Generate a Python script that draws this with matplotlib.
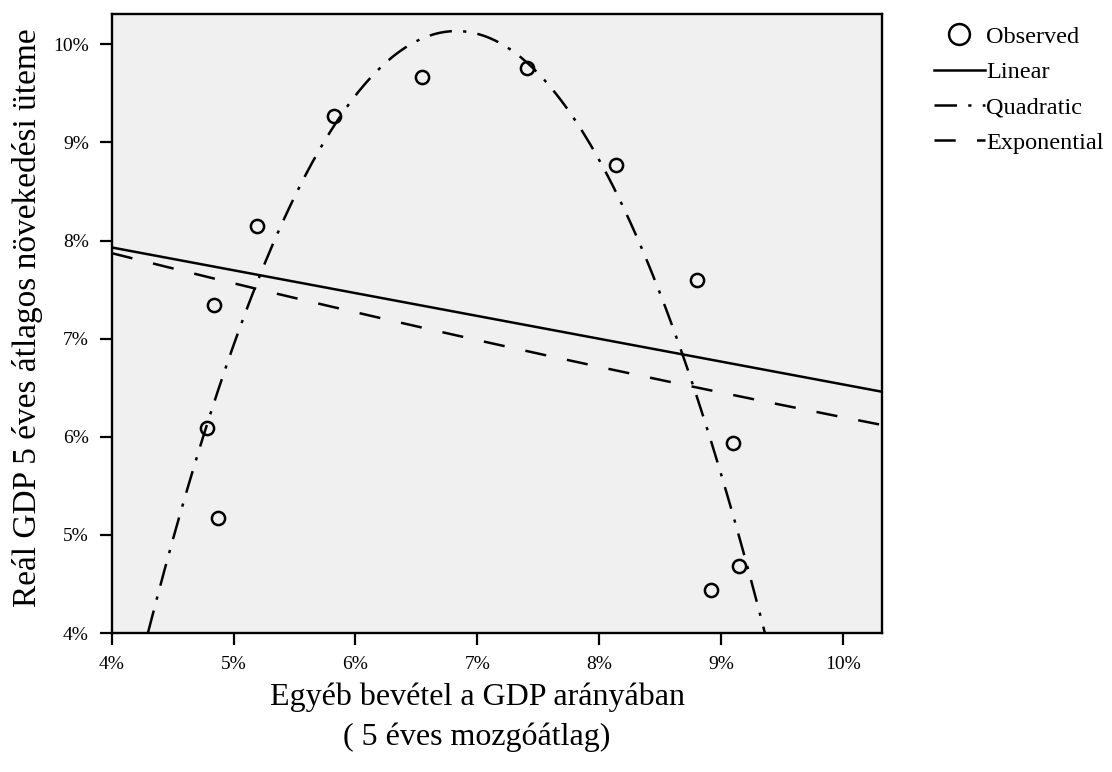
import numpy as np
import matplotlib
matplotlib.use("Agg")
import matplotlib.pyplot as plt
from matplotlib.ticker import FuncFormatter
from matplotlib.lines import Line2D

plt.rcParams['font.family'] = ['Liberation Serif', 'DejaVu Serif']

# observed points (percent)
obs_x = [4.78, 4.87, 4.84, 5.19, 5.82, 6.55, 7.41, 8.14, 8.80, 9.10, 9.15, 8.92]
obs_y = [6.09, 5.17, 7.34, 8.15, 9.27, 9.67, 9.76, 8.77, 7.60, 5.94, 4.68, 4.44]

# fitted curve coefficients
lin_coef = [8.86, -0.2326]              # b0 + b1*x
quad_coef = [-34.49, 13.07, -0.957]     # b0 + b1*x + b2*x^2
exp_coef = [9.23, -0.0398]              # b0 * exp(b1*x)

xticks = [4, 5, 6, 7, 8, 9, 10]
yticks = [4, 5, 6, 7, 8, 9, 10]
x_lim = (4, 10.32)
y_lim = (4, 10.31)

LW = 1.8
quad_ls = (0, (9, 4.5, 1.3, 4.5))
exp_ls = (0, (8.5, 8.5))

fig = plt.figure(figsize=(11.12, 7.72), dpi=100)
ax = fig.add_axes([0.1005, 0.18, 0.6925, 0.802])
ax.set_facecolor('#f0f0f0')

xs = np.linspace(x_lim[0], x_lim[1], 400)
ax.plot(xs, lin_coef[0] + lin_coef[1] * xs, color='black', lw=LW, ls='-')
ax.plot(xs, quad_coef[0] + quad_coef[1] * xs + quad_coef[2] * xs ** 2,
        color='black', lw=LW, ls=quad_ls)
ax.plot(xs, exp_coef[0] * np.exp(exp_coef[1] * xs), color='black', lw=LW, ls=exp_ls)
ax.plot(obs_x, obs_y, 'o', ms=9.5, mfc='none', mec='black', mew=1.8)

ax.set_xlim(*x_lim)
ax.set_ylim(*y_lim)
ax.set_xticks(xticks)
ax.set_yticks(yticks)
pct = FuncFormatter(lambda v, p: '%d%%' % v)
ax.xaxis.set_major_formatter(pct)
ax.yaxis.set_major_formatter(pct)
ax.tick_params(direction='out', length=8.5, width=1.6, labelsize=14, pad=8)
for s in ax.spines.values():
    s.set_linewidth(1.7)

fig.text(477 / 1112, 1 - 697 / 772, 'Egyéb bevétel a GDP arányában',
         ha='center', va='center', fontsize=23)
fig.text(477 / 1112, 1 - 737 / 772, '( 5 éves mozgóátlag)',
         ha='center', va='center', fontsize=23)
fig.text(28 / 1112, 1 - 318 / 772, 'Reál GDP 5 éves átlagos növekedési üteme',
         ha='center', va='center', rotation=90, fontsize=24)

handles = [
    Line2D([], [], ls='none', marker='o', ms=15, mfc='none', mec='black', mew=1.8),
    Line2D([], [], color='black', lw=LW, ls='-'),
    Line2D([], [], color='black', lw=LW, ls=quad_ls),
    Line2D([], [], color='black', lw=LW, ls=exp_ls),
]
labels = ['Observed', 'Linear', 'Quadratic', 'Exponential']
fig.legend(handles, labels, loc='upper left', bbox_to_anchor=(924 / 1112, 1 - 16 / 772),
           frameon=False, fontsize=17.5, handlelength=2.1, handletextpad=0.05,
           labelspacing=0.55, borderaxespad=0)

plt.savefig('out.png', dpi=100)
